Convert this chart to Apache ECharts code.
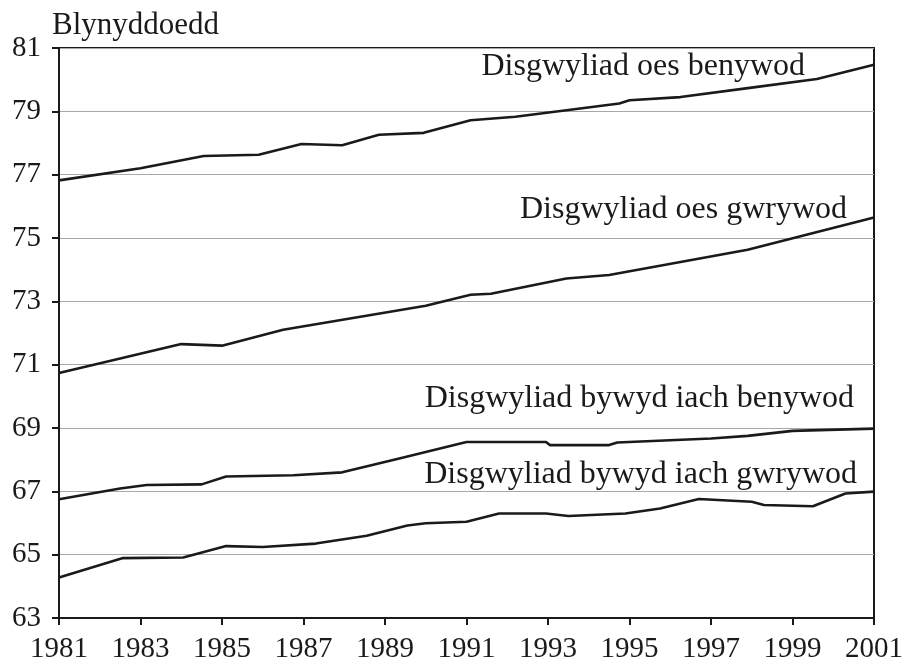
<!DOCTYPE html>
<html>
<head>
<meta charset="utf-8">
<script src="https://cdn.jsdelivr.net/npm/echarts@6/dist/echarts.min.js"></script>
<style>
  html, body { margin: 0; padding: 0; background: #fff; }
  #chart { width: 909px; height: 664px; }
</style>
</head>
<body>
<div id="chart"></div>
<script>
const femaleLifeYears = [1981, 1983, 1984.55, 1985.9, 1986.95, 1987.95, 1988.85, 1989.95, 1991.1, 1992.2, 1994.75, 1995.0, 1996.25, 1997.95, 1999.6, 2001]
const femaleLife = [76.82, 77.2, 77.59, 77.63, 77.97, 77.93, 78.26, 78.32, 78.72, 78.83, 79.25, 79.35, 79.45, 79.74, 80.02, 80.47]

const maleLifeYears = [1981, 1984, 1985, 1986.5, 1990, 1991.1, 1991.6, 1993.45, 1994.5, 1997.9, 2001]
const maleLife = [70.74, 71.65, 71.6, 72.1, 72.86, 73.21, 73.24, 73.72, 73.83, 74.63, 75.65]

const femaleHealthyYears = [1981, 1982.5, 1983.15, 1984.5, 1985.1, 1986.75, 1987.95, 1989.35, 1991.0, 1992.95, 1993.05, 1994.5, 1994.7, 1997.0, 1997.9, 1999.0, 2001]
const femaleHealthy = [66.75, 67.09, 67.2, 67.22, 67.47, 67.51, 67.6, 68.04, 68.56, 68.56, 68.46, 68.46, 68.54, 68.67, 68.75, 68.91, 68.98]

const maleHealthyYears = [1981, 1982.55, 1984.05, 1985.1, 1986.0, 1987.3, 1988.55, 1989.55, 1990.0, 1991.0, 1991.8, 1992.95, 1993.5, 1994.9, 1995.75, 1996.7, 1998.0, 1998.3, 1999.5, 2000.3, 2001]
const maleHealthy = [64.28, 64.89, 64.91, 65.27, 65.24, 65.35, 65.6, 65.92, 65.99, 66.04, 66.3, 66.3, 66.22, 66.3, 66.46, 66.76, 66.67, 66.57, 66.53, 66.93, 66.99]

const seriesNames = ['Disgwyliad oes benywod', 'Disgwyliad oes gwrywod', 'Disgwyliad bywyd iach benywod', 'Disgwyliad bywyd iach gwrywod']
const yAxisName = 'Blynyddoedd'

const font = '"Liberation Serif", "Times New Roman", serif'
const ink = '#1a1a1a'

const pairs = (xs, ys) => xs.map((x, i) => [x, ys[i]])

const chart = echarts.init(document.getElementById('chart'))

const makeLine = (name, data) => ({
  name,
  type: 'line',
  data,
  symbol: 'none',
  silent: true,
  lineStyle: { color: ink, width: 2.6 },
})

// label positions (right end, text middle)
const labelPos = [[805, 67], [847, 210], [854, 399], [857, 475]]

const option = {
  animation: false,
  backgroundColor: '#fff',
  grid: {
    left: 59,
    right: 35,
    top: 48,
    bottom: 44,
    show: true,
    borderColor: ink,
    borderWidth: 2,
  },
  xAxis: {
    type: 'value',
    min: 1981,
    max: 2001,
    interval: 2,
    axisLine: { lineStyle: { color: ink, width: 2 } },
    axisTick: { show: true, length: 7, lineStyle: { color: ink, width: 2 } },
    axisLabel: { color: ink, fontFamily: font, fontSize: 29, margin: 17, formatter: v => String(v) },
    splitLine: { show: false },
  },
  yAxis: {
    type: 'value',
    min: 63,
    max: 81,
    interval: 2,
    axisLine: { show: true, lineStyle: { color: ink, width: 2 } },
    axisTick: { show: true, length: 7, lineStyle: { color: ink, width: 2 } },
    axisLabel: { color: ink, fontFamily: font, fontSize: 29, margin: 18 },
    splitLine: { lineStyle: { color: '#a8a8a8', width: 1.2 } },
  },
  series: [
    makeLine(seriesNames[0], pairs(femaleLifeYears, femaleLife)),
    makeLine(seriesNames[1], pairs(maleLifeYears, maleLife)),
    makeLine(seriesNames[2], pairs(femaleHealthyYears, femaleHealthy)),
    makeLine(seriesNames[3], pairs(maleHealthyYears, maleHealthy)),
  ],
  graphic: [
    {
      type: 'text',
      x: 52,
      y: 26,
      style: { text: yAxisName, fill: ink, font: '31px ' + font, align: 'left', verticalAlign: 'middle' },
    },
    ...seriesNames.map((name, i) => ({
      type: 'text',
      x: labelPos[i][0],
      y: labelPos[i][1],
      style: { text: name, fill: ink, font: '32px ' + font, align: 'right', verticalAlign: 'middle' },
    })),
  ],
}

chart.setOption(option)
</script>
</body>
</html>
